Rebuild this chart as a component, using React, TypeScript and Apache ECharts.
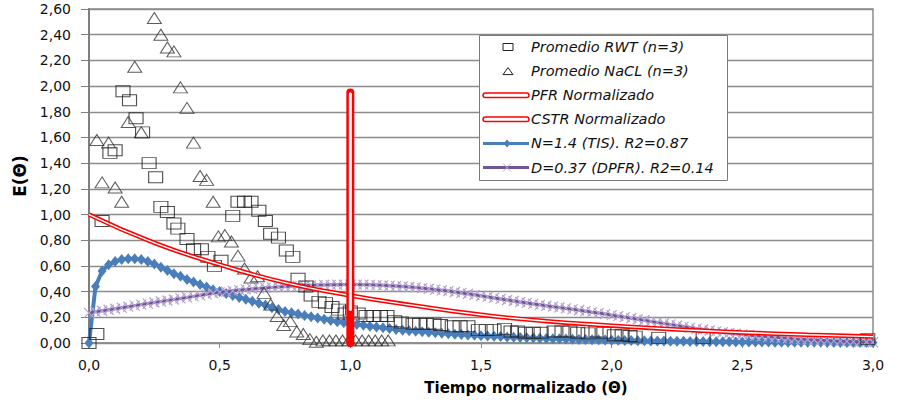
import React, { useEffect, useRef } from "react";
import * as echarts from "echarts";

// ---------- data ----------
const yTicks = [0, 0.2, 0.4, 0.6, 0.8, 1.0, 1.2, 1.4, 1.6, 1.8, 2.0, 2.2, 2.4, 2.6];
const xTicks = [0, 0.5, 1.0, 1.5, 2.0, 2.5, 3.0];

const rwtTheta = [0.00, 0.03, 0.05, 0.08, 0.10, 0.13, 0.155, 0.18, 0.205, 0.23, 0.255, 0.275, 0.30, 0.325, 0.34, 0.375, 0.40, 0.43, 0.455, 0.48,
  0.505, 0.55, 0.57, 0.595, 0.62, 0.65, 0.675, 0.695, 0.725, 0.755, 0.78, 0.80, 0.83, 0.85, 0.88, 0.905, 0.93, 0.955, 0.98, 1.00,
  1.03, 1.06, 1.09, 1.115, 1.14, 1.17, 1.195, 1.24, 1.265, 1.29, 1.32, 1.345, 1.39, 1.42, 1.45, 1.49, 1.52, 1.55, 1.59, 1.615,
  1.64, 1.67, 1.70, 1.73, 1.78, 1.81, 1.84, 1.87, 1.91, 1.94, 1.97, 2.01, 2.04, 2.07, 2.09, 2.18, 2.35, 2.98];
const rwtE = [0.00, 0.07, 0.95, 1.48, 1.50, 1.96, 1.89, 1.75, 1.64, 1.40, 1.29, 1.06, 1.02, 0.93, 0.89, 0.81, 0.73, 0.73, 0.67, 0.60,
  0.64, 0.99, 1.10, 1.10, 1.10, 1.03, 0.95, 0.85, 0.82, 0.72, 0.67, 0.50, 0.44, 0.37, 0.32, 0.31, 0.28, 0.26, 0.23, 0.245,
  0.23, 0.21, 0.21, 0.21, 0.21, 0.17, 0.16, 0.15, 0.15, 0.15, 0.15, 0.14, 0.13, 0.13, 0.13, 0.10, 0.10, 0.10, 0.11, 0.09,
  0.09, 0.08, 0.08, 0.08, 0.09, 0.09, 0.09, 0.08, 0.075, 0.09, 0.08, 0.06, 0.06, 0.055, 0.05, 0.04, 0.04, 0.03];

const naclTheta = [0.03, 0.05, 0.075, 0.10, 0.125, 0.15, 0.175, 0.20, 0.25, 0.275, 0.30, 0.325, 0.35, 0.375, 0.40,
  0.425, 0.45, 0.475, 0.495, 0.52, 0.545, 0.57, 0.595, 0.62, 0.645, 0.67, 0.695, 0.72, 0.745, 0.77,
  0.795, 0.82, 0.845, 0.87, 0.895, 0.92, 0.945, 0.97, 0.995, 1.02, 1.045, 1.07, 1.095, 1.12, 1.145];
const naclE = [1.58, 1.25, 1.56, 1.21, 1.10, 1.72, 2.15, 1.64, 2.53, 2.40, 2.30, 2.27, 1.99, 1.83, 1.56,
  1.30, 1.27, 1.10, 0.83, 0.84, 0.79, 0.68, 0.58, 0.51, 0.52, 0.39, 0.30, 0.21, 0.14, 0.17,
  0.09, 0.07, 0.03, 0.01, 0.02, 0.02, 0.02, 0.02, 0.02, 0.02, 0.02, 0.02, 0.02, 0.02, 0.02];

const pfrTheta = [1.0, 1.0];
const pfrE = [0.0, 1.95];
const pfrInnerE = [0.26, 1.94];

const cstrTheta = [0, 0.25, 0.5, 0.75, 1.0, 1.25, 1.5, 1.75, 2.0, 2.25, 2.5, 2.75, 3.0];
const cstrE = [1.00, 0.78, 0.61, 0.47, 0.37, 0.29, 0.22, 0.17, 0.135, 0.105, 0.082, 0.064, 0.05];

const theta = [
  0, 0.025, 0.05, 0.075, 0.1, 0.125, 0.15, 0.175, 0.2, 0.225,
  0.25, 0.275, 0.3, 0.325, 0.35, 0.375, 0.4, 0.425, 0.45, 0.475,
  0.5, 0.525, 0.55, 0.575, 0.6, 0.625, 0.65, 0.675, 0.7, 0.725,
  0.75, 0.775, 0.8, 0.825, 0.85, 0.875, 0.9, 0.925, 0.95, 0.975,
  1.0, 1.025, 1.05, 1.075, 1.1, 1.125, 1.15, 1.175, 1.2, 1.225,
  1.25, 1.275, 1.3, 1.325, 1.35, 1.375, 1.4, 1.425, 1.45, 1.475,
  1.5, 1.525, 1.55, 1.575, 1.6, 1.625, 1.65, 1.675, 1.7, 1.725,
  1.75, 1.775, 1.8, 1.825, 1.85, 1.875, 1.9, 1.925, 1.95, 1.975,
  2.0, 2.025, 2.05, 2.075, 2.1, 2.125, 2.15, 2.175, 2.2, 2.225,
  2.25, 2.275, 2.3, 2.325, 2.35, 2.375, 2.4, 2.425, 2.45, 2.475,
  2.5, 2.525, 2.55, 2.575, 2.6, 2.625, 2.65, 2.675, 2.7, 2.725,
  2.75, 2.775, 2.8, 2.825, 2.85, 2.875, 2.9, 2.925, 2.95, 2.975,
  3.0];

const tisE = [
  0, 0.44, 0.56, 0.61, 0.635, 0.65, 0.655, 0.655, 0.65, 0.635,
  0.615, 0.59, 0.565, 0.54, 0.52, 0.495, 0.475, 0.455, 0.435, 0.415,
  0.40, 0.385, 0.37, 0.355, 0.34, 0.325, 0.31, 0.295, 0.275, 0.26,
  0.245, 0.235, 0.225, 0.215, 0.205, 0.195, 0.185, 0.175, 0.166, 0.158,
  0.15, 0.144, 0.138, 0.131, 0.124, 0.118, 0.112, 0.106, 0.10, 0.096,
  0.092, 0.088, 0.084, 0.08, 0.076, 0.072, 0.069, 0.066, 0.063, 0.06,
  0.057, 0.054, 0.052, 0.05, 0.047, 0.045, 0.043, 0.041, 0.039, 0.037,
  0.036, 0.034, 0.033, 0.031, 0.03, 0.028, 0.027, 0.026, 0.025, 0.023,
  0.022, 0.021, 0.02, 0.019, 0.018, 0.017, 0.016, 0.016, 0.015, 0.014,
  0.013, 0.013, 0.012, 0.011, 0.011, 0.01, 0.01, 0.009, 0.009, 0.008,
  0.008, 0.008, 0.007, 0.007, 0.007, 0.006, 0.006, 0.006, 0.006, 0.005,
  0.005, 0.005, 0.005, 0.004, 0.004, 0.004, 0.004, 0.004, 0.003, 0.003,
  0.003];

const dpfrE = [
  0.235, 0.243, 0.251, 0.259, 0.267, 0.275, 0.283, 0.291, 0.299, 0.307,
  0.315, 0.323, 0.331, 0.339, 0.347, 0.355, 0.363, 0.371, 0.379, 0.387,
  0.394, 0.40, 0.406, 0.412, 0.417, 0.421, 0.425, 0.429, 0.433, 0.436,
  0.439, 0.442, 0.445, 0.447, 0.449, 0.451, 0.452, 0.453, 0.454, 0.455,
  0.455, 0.455, 0.454, 0.453, 0.451, 0.449, 0.446, 0.443, 0.44, 0.436,
  0.432, 0.427, 0.422, 0.416, 0.41, 0.404, 0.397, 0.39, 0.383, 0.375,
  0.367, 0.359, 0.351, 0.343, 0.335, 0.327, 0.319, 0.312, 0.304, 0.297,
  0.29, 0.283, 0.276, 0.269, 0.262, 0.255, 0.248, 0.24, 0.233, 0.225,
  0.217, 0.209, 0.201, 0.193, 0.185, 0.177, 0.168, 0.16, 0.152, 0.144,
  0.136, 0.128, 0.12, 0.112, 0.105, 0.097, 0.09, 0.084, 0.078, 0.072,
  0.066, 0.061, 0.056, 0.052, 0.047, 0.044, 0.04, 0.037, 0.033, 0.03,
  0.027, 0.025, 0.022, 0.02, 0.017, 0.015, 0.013, 0.011, 0.009, 0.008,
  0.006];

const legendNames = [
  "Promedio RWT (n=3)",
  "Promedio NaCL (n=3)",
  "PFR Normalizado",
  "CSTR Normalizado",
  "N=1.4 (TIS). R2=0.87",
  "D=0.37 (DPFR). R2=0.14",
];

// ---------- styles ----------
const RED = "#ff0000";
const BLUE = "#4a7ebb";
const PURPLE = "#6f5696";
const LAVENDER = "#b4a2d2";
const GRID = "#8c8c8c";
const FONT = "DejaVu Sans";

const zip = (xs: number[], ys: number[]) => xs.map((x, i) => [x, ys[i]]);

function buildLegend() {
  const els: any[] = [];
  const x0 = 479.5, y0 = 35.5, w = 248, h = 145;
  els.push({ type: "rect", shape: { x: x0, y: y0, width: w, height: h }, style: { fill: "#fff", stroke: "#7a7a7a", lineWidth: 1 }, z: 100 });
  legendNames.forEach((name, i) => {
    const cy = 47 + 24.1 * i;
    if (i === 0) {
      els.push({ type: "rect", shape: { x: 503, y: cy - 3.5, width: 10, height: 7 }, style: { fill: "none", stroke: "#222", lineWidth: 1 }, z: 101 });
    } else if (i === 1) {
      els.push({ type: "polygon", shape: { points: [[503, cy + 3.5], [508, cy - 3.5], [513, cy + 3.5]] }, style: { fill: "none", stroke: "#222", lineWidth: 1 }, z: 101 });
    } else if (i === 2 || i === 3) {
      els.push({ type: "rect", shape: { x: 483, y: cy - 2.25, width: 46, height: 4.5, r: 2.25 }, style: { fill: "#fff", stroke: RED, lineWidth: 1.5 }, z: 101 });
    } else if (i === 4) {
      els.push({ type: "line", shape: { x1: 483, y1: cy, x2: 529, y2: cy }, style: { stroke: BLUE, lineWidth: 3 }, z: 101 });
      els.push({ type: "polygon", shape: { points: [[507, cy - 4], [510.5, cy], [507, cy + 4], [503.5, cy]] }, style: { fill: BLUE }, z: 102 });
    } else {
      els.push({ type: "line", shape: { x1: 483, y1: cy, x2: 529, y2: cy }, style: { stroke: PURPLE, lineWidth: 3 }, z: 101 });
      els.push({ type: "line", shape: { x1: 503, y1: cy - 4, x2: 511, y2: cy + 4 }, style: { stroke: LAVENDER, lineWidth: 1 }, z: 102 });
      els.push({ type: "line", shape: { x1: 511, y1: cy - 4, x2: 503, y2: cy + 4 }, style: { stroke: LAVENDER, lineWidth: 1 }, z: 102 });
    }
    els.push({
      type: "text", x: 531, y: cy, z: 101,
      style: { text: name, fill: "#111", font: `italic 14.5px "${FONT}"`, verticalAlign: "middle", align: "left" },
    });
  });
  return els;
}

export default function App() {
  const ref = useRef<HTMLDivElement>(null);
  useEffect(() => {
    document.body.style.margin = "0";
    const chart = echarts.init(ref.current as HTMLDivElement, null, { renderer: "svg" });
    const option: any = {
      animation: false,
      backgroundColor: "#fff",
      grid: { left: 89, right: 28, top: 9, bottom: 57, show: true, borderColor: GRID, borderWidth: 1.5, backgroundColor: "rgba(0,0,0,0)" },
      xAxis: {
        type: "value", min: xTicks[0], max: xTicks[xTicks.length - 1], interval: 0.5,
        axisLine: { show: true, onZero: false, lineStyle: { color: GRID, width: 1.5 } },
        axisTick: { show: true, length: 5, lineStyle: { color: GRID } },
        splitLine: { show: false },
        axisLabel: { formatter: (v: number) => v.toFixed(1).replace(".", ","), fontFamily: FONT, fontSize: 14, color: "#111", margin: 15 },
        name: "Tiempo normalizado (Θ)", nameLocation: "middle", nameGap: 37,
        nameTextStyle: { fontFamily: FONT, fontWeight: "bold", fontSize: 15, color: "#000", padding: [0, 0, 0, 90] },
      },
      yAxis: {
        type: "value", min: yTicks[0], max: yTicks[yTicks.length - 1], interval: 0.2,
        axisLine: { show: true, lineStyle: { color: "#7f7f7f", width: 2 } },
        axisTick: { show: true, length: 8, lineStyle: { color: "#7f7f7f" } },
        splitLine: { show: true, lineStyle: { color: GRID, width: 1.3 } },
        axisLabel: { formatter: (v: number) => v.toFixed(2).replace(".", ","), fontFamily: FONT, fontSize: 14, color: "#111", margin: 18 },
        name: "E(Θ)", nameLocation: "middle", nameGap: 55, nameRotate: 90,
        nameTextStyle: { fontFamily: FONT, fontWeight: "bold", fontSize: 17, color: "#000" },
      },
      series: [
        {
          name: legendNames[4], type: "line", z: 2, data: zip(theta, tisE), showAllSymbol: true,
          symbol: "diamond", symbolSize: [9, 11], itemStyle: { color: BLUE },
          lineStyle: { color: BLUE, width: 4 }, emphasis: { disabled: true }, silent: true,
        },
        {
          name: legendNames[5], type: "line", z: 3, data: zip(theta, dpfrE), showAllSymbol: true,
          symbol: "path://M0,0L10,10M10,0L0,10", symbolSize: 10,
          itemStyle: { color: LAVENDER, borderColor: LAVENDER, borderWidth: 1.2 },
          lineStyle: { color: PURPLE, width: 3 }, emphasis: { disabled: true }, silent: true,
        },
        {
          name: legendNames[0], type: "scatter", z: 4, data: zip(rwtTheta, rwtE),
          symbol: "rect", symbolSize: [14, 11],
          itemStyle: { color: "rgba(0,0,0,0)", borderColor: "#222", borderWidth: 1 }, silent: true,
        },
        {
          name: legendNames[1], type: "scatter", z: 4, data: zip(naclTheta, naclE),
          symbol: "triangle", symbolSize: [14, 11],
          itemStyle: { color: "rgba(0,0,0,0)", borderColor: "#333", borderWidth: 1 }, silent: true,
        },
        {
          name: legendNames[3], type: "line", z: 5, data: zip(cstrTheta, cstrE), smooth: true,
          symbol: "none", lineStyle: { color: RED, width: 4.5 }, silent: true,
        },
        {
          name: legendNames[3] + " ", type: "line", z: 5, data: zip(cstrTheta, cstrE), smooth: true,
          symbol: "none", lineStyle: { color: "#fff", width: 1.4 }, silent: true,
        },
        {
          name: legendNames[2], type: "line", z: 6, data: zip(pfrTheta, pfrE),
          symbol: "none", lineStyle: { color: RED, width: 8, cap: "round" }, silent: true,
        },
        {
          name: legendNames[2] + " ", type: "line", z: 6, data: zip(pfrTheta, pfrInnerE),
          symbol: "none", lineStyle: { color: "#fff", width: 3, cap: "round" }, silent: true,
        },
      ],
      graphic: buildLegend(),
    };
    chart.setOption(option);
    return () => chart.dispose();
  }, []);
  return <div ref={ref} style={{ width: 901, height: 400 }} />;
}
